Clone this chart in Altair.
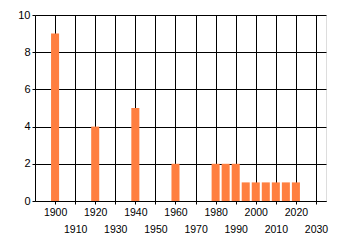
import altair as alt
import pandas as pd

years = [1900, 1920, 1940, 1960, 1980, 1985, 1990, 1995, 2000, 2005, 2010, 2015, 2020]
counts = [9, 4, 5, 2, 2, 2, 2, 1, 1, 1, 1, 1, 1]
x_ticks = list(range(1900, 2031, 10))
y_ticks = [0, 2, 4, 6, 8, 10]

df = pd.DataFrame({"year": years, "count": counts})

font = "Liberation Sans"

chart = alt.Chart(df).transform_calculate(
    x0="datum.year - 2", x1="datum.year + 2", base="0"
).mark_bar(color="#FF7F40").encode(
    x=alt.X("x0:Q", scale=alt.Scale(domain=[1890, 2035], nice=False, zero=False, padding=0),
            axis=alt.Axis(values=x_ticks, format="d", title=None, grid=True,
                          gridColor="black", gridOpacity=1, gridWidth=1,
                          domainColor="black", tickColor="black", tickSize=3,
                          labelFont=font, labelFontSize=10.5, labelColor="black",
                          labelPadding=3, labelLineHeight=17, labelFlush=False,
                          labelOverlap=False,
                          labelExpr="datum.value % 20 == 0 ? datum.label : ['', datum.label]")),
    x2="x1:Q",
    y=alt.Y("count:Q", scale=alt.Scale(domain=[0, 10], nice=False, padding=0),
            axis=alt.Axis(values=y_ticks, title=None, grid=True,
                          gridColor="black", gridOpacity=1, gridWidth=1,
                          domainColor="black", tickColor="black", tickSize=3,
                          labelFont=font, labelFontSize=11, labelColor="black",
                          labelPadding=2, labelFlush=False)),
    y2="base:Q",
).properties(
    width=291, height=186,
    autosize=alt.AutoSizeParams(type="none"),
    padding={"left": 35, "top": 15, "right": 14, "bottom": 44},
).configure_view(stroke=None).configure(background="white")

chart.save("out.html", embed_options={"renderer": "svg", "actions": False})
